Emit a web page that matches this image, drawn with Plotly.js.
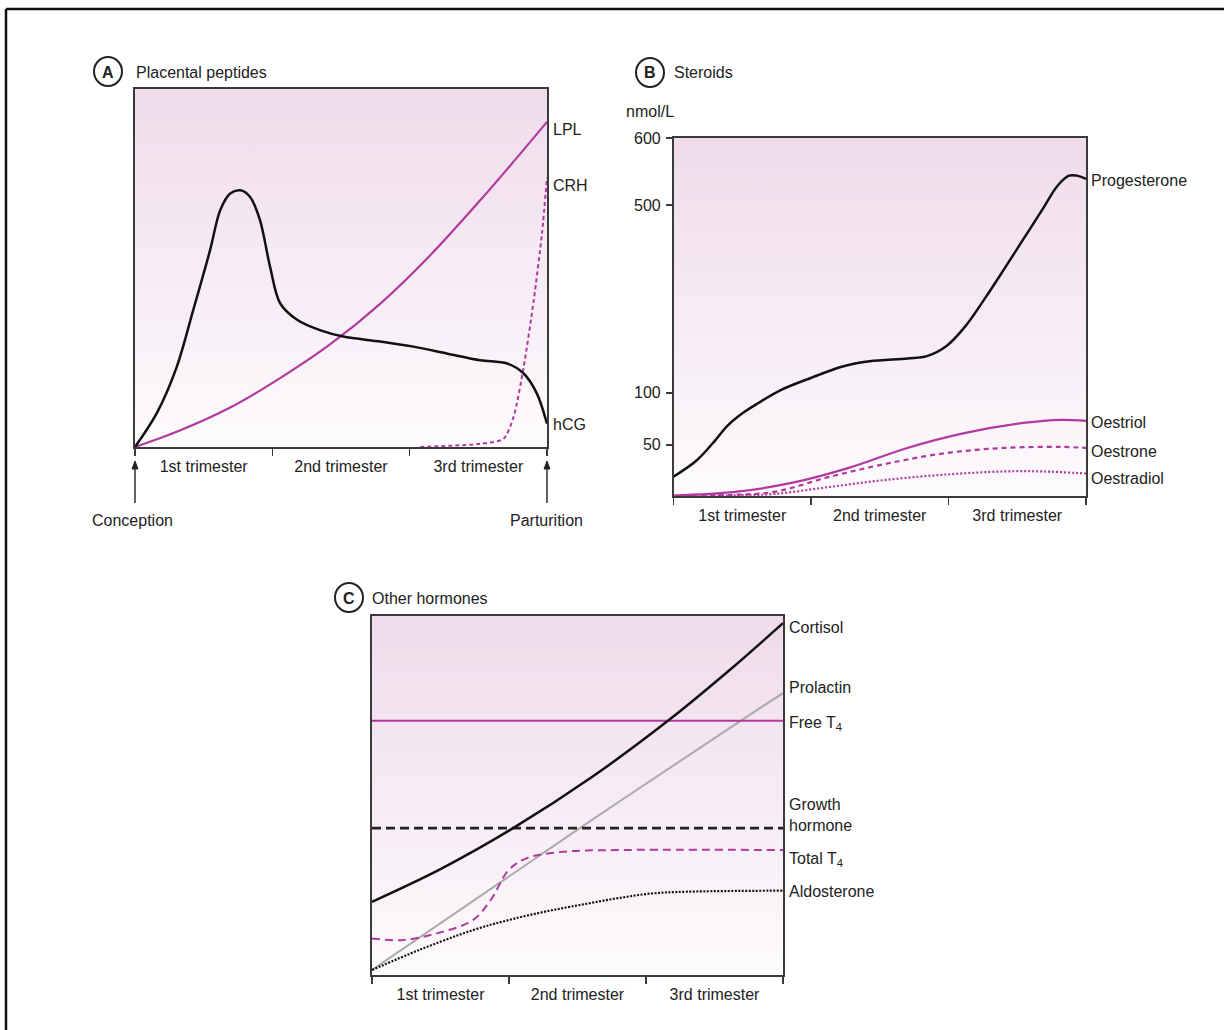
<!DOCTYPE html>
<html>
<head>
<meta charset="utf-8">
<script src="https://cdn.plot.ly/plotly-3.0.1.min.js"></script>
<style>html,body{margin:0;padding:0;background:#fff;}#chart{width:1224px;height:1030px;}</style>
</head>
<body>
<div id="chart"></div>
<script>
// ---------- DATA ----------
const trimesters = ['1st trimester', '2nd trimester', '3rd trimester'];
const trimesterCentres = [1.5, 4.5, 7.5];   // months
const trimesterBounds = [0, 3, 6, 9];       // months

// Panel A: placental peptides (relative units 0-100, x in months)
const hcgX = [0,0.47,0.91,1.27,1.64,1.86,2.08,2.30,2.51,2.73,2.95,3.17,3.54,4.04,4.55,5.36,6.08,6.81,7.54,8.13,8.49,8.78,9.0];
const hcgY = [0,9.3,22.3,38.1,54.9,66.0,70.7,71.6,69.8,63.3,50.3,40.1,35.5,32.6,30.8,29.4,28.0,26.1,24.2,23.3,20.5,14.9,6.5];
const lplX = [0,0.98,2.08,3.17,4.26,5.36,6.45,7.54,8.27,9.0];
const lplY = [0,4.6,11.0,19.2,28.6,40.0,53.5,68.8,79.6,90.7];
const crhX = [6.23,7.54,8.05,8.27,8.49,8.71,8.89,9.0];
const crhY = [0,0.9,2.3,8.4,22.3,40.9,59.5,75.3];

// Panel B: steroids (nmol/L, broken axis)
const bTickVals = [50, 100, 500, 600];
const bTickText = ['50', '100', '500', '600'];
const progX = [0,0.51,0.92,1.17,1.51,1.85,2.35,3.01,3.69,4.28,5.11,5.53,5.95,6.37,6.78,7.21,7.63,8.05,8.38,8.63,8.80,9.0];
const progY = [19,35,54.8,68,80.5,90.1,106,132,156,167,173,178,199,242,299,363,427,491,529,544,544,539];
const oestriolX = [0,1.34,2.6,3.86,5.1,6.37,7.63,8.45,9];
const oestriolY = [0.5,4,13,28,47,61.5,71,74,73];
const oestroneX = [0,1.2,2.19,3.43,4.69,5.95,7.21,8.45,9];
const oestroneY = [0,1,4,19,32,42,47,48,47];
const oestradiolX = [0,1.2,2.19,3.43,4.69,5.95,7.21,8.05,9];
const oestradiolY = [0,0.5,2,9,16,21,24,24,22];

// Panel C: other hormones (relative units 0-100)
const cortisolX = [0,1.5,3.09,4.8,6.48,7.8,9];
const cortisolY = [20.4,29.5,40.9,55,70.8,84.6,98.0];
const prolactinX = [0,4.55,8.07,9];
const prolactinY = [1.4,40.9,70.8,78.5];
const freeT4X = [0,9];
const freeT4Y = [70.8,70.8];
const ghX = [0,9];
const ghY = [40.9,40.9];
const totalT4X = [0,0.64,1.42,2.21,2.6,2.99,3.38,4.16,5.34,9];
const totalT4Y = [10.2,9.7,11.6,15.3,20.9,29.2,32.5,34.3,34.8,34.8];
const aldoX = [0,1.04,2.21,2.99,3.77,4.55,5.34,6.12,6.9,9];
const aldoY = [1.4,7.0,12.5,15.3,17.6,19.5,21.3,22.7,23.2,23.5];

// ---------- HELPERS ----------
const W = 1224, H = 1030;
const px = x => x / W;
const py = y => 1 - y / H;
const FONT = 'Liberation Sans, Arial, sans-serif';
const FS = 16;
const TXT = '#222222';
const MAG = '#b03a9e';
const AXC = '#3a3a3a';

// broken-axis mapping for panel B (value -> display units)
const bBreakVals = [0, 50, 100, 500, 600];
const bBreakPos  = [0, 51, 103, 290, 357];
function fB(v) {
  for (let i = 1; i < bBreakVals.length; i++) {
    if (v <= bBreakVals[i]) {
      const t = (v - bBreakVals[i-1]) / (bBreakVals[i] - bBreakVals[i-1]);
      return bBreakPos[i-1] + t * (bBreakPos[i] - bBreakPos[i-1]);
    }
  }
  return bBreakPos[bBreakPos.length-1];
}

function bg(xa, ya, ymax) {
  return {x:[0,9,9,0,0], y:[0,0,ymax,ymax,0], xaxis:xa, yaxis:ya, mode:'lines', fill:'toself',
    line:{width:0, color:'rgba(0,0,0,0)'}, hoverinfo:'skip', showlegend:false,
    fillgradient:{type:'vertical', colorscale:[[0,'#fdfbfd'],[1,'#efdbea']]}};
}
function ln(x, y, xa, ya, color, width, dash, smooth) {
  return {x, y, xaxis:xa, yaxis:ya, mode:'lines', hoverinfo:'skip', showlegend:false,
    line:{color, width, dash: dash || 'solid', shape:'spline', smoothing: smooth === undefined ? 1 : smooth}};
}

const traces = [
  bg('x','y',100), bg('x2','y2',fB(600)), bg('x3','y3',100),
  // A
  ln(lplX, lplY, 'x','y', MAG, 2.2),
  ln(crhX, crhY, 'x','y', MAG, 2, '4px,3px', 0.7),
  ln(hcgX, hcgY, 'x','y', '#111', 2.5, 'solid', 0.9),
  // B
  ln(progX, progY.map(fB), 'x2','y2', '#111', 2.5),
  ln(oestriolX, oestriolY.map(fB), 'x2','y2', MAG, 2.2),
  ln(oestroneX, oestroneY.map(fB), 'x2','y2', MAG, 2.2, '5px,4px'),
  ln(oestradiolX, oestradiolY.map(fB), 'x2','y2', MAG, 2.2, '2px,2px'),
  // C
  ln(prolactinX, prolactinY, 'x3','y3', '#aaaaaa', 2),
  ln(freeT4X, freeT4Y, 'x3','y3', MAG, 2),
  ln(ghX, ghY, 'x3','y3', '#222', 2.8, '9px,5px'),
  ln(totalT4X, totalT4Y, 'x3','y3', MAG, 2, '8px,5px'),
  ln(aldoX, aldoY, 'x3','y3', '#111', 2.2, '2px,1.5px'),
  ln(cortisolX, cortisolY, 'x3','y3', '#111', 2.5),
];

function xAxis(d0, d1, anchor) {
  return {domain:[px(d0), px(d1)], anchor, range:[0,9], fixedrange:true,
    showgrid:false, zeroline:false, showline:true, mirror:true, linecolor:AXC, linewidth:1.6,
    tickmode:'array', tickvals:trimesterCentres, ticktext:trimesters, ticks:'', ticklabelstandoff:4,
    tickfont:{family:FONT, size:FS, color:TXT},
    minor:{tickmode:'array', tickvals:trimesterBounds, ticks:'outside', ticklen:7, tickwidth:1.6, tickcolor:AXC, showgrid:false}};
}
function yAxis(top, bottom, anchor, range) {
  return {domain:[py(bottom), py(top)], anchor, range, fixedrange:true,
    showgrid:false, zeroline:false, showline:true, mirror:true, linecolor:AXC, linewidth:1.6,
    showticklabels:false, ticks:''};
}

function arrowShapes(x, tipY, tailY) {
  return [
    {type:'line', xref:'paper', yref:'paper', x0:px(x), x1:px(x), y0:py(tailY), y1:py(tipY + 6), line:{color:'#222', width:1.4}},
    {type:'path', xref:'paper', yref:'paper', fillcolor:'#222', line:{color:'#222', width:1},
      path:`M ${px(x-3)} ${py(tipY+8)} L ${px(x)} ${py(tipY)} L ${px(x+3)} ${py(tipY+8)} Z`}
  ];
}

const layout = {
  width: W, height: H, margin:{l:0,r:0,t:0,b:0}, paper_bgcolor:'#ffffff', plot_bgcolor:'rgba(0,0,0,0)',
  showlegend:false, font:{family:FONT, size:FS, color:TXT},
  xaxis: xAxis(135, 547, 'y'),
  yaxis: yAxis(88.5, 447, 'x', [0,100]),
  xaxis2: xAxis(673.5, 1086, 'y2'),
  yaxis2: Object.assign(yAxis(138, 496, 'x2', [0, fB(600)]), {
    tickmode:'array', tickvals:bTickVals.map(fB), ticktext:bTickText, ticks:'outside', ticklen:6,
    tickwidth:1.6, tickcolor:AXC, showticklabels:true, ticklabelstandoff:2,
    tickfont:{family:FONT, size:FS, color:TXT}}),
  xaxis3: xAxis(372, 783, 'y3'),
  yaxis3: yAxis(616, 975, 'x3', [0,100]),
  shapes: [
    // outer frame (top and left edges)
    {type:'line', xref:'paper', yref:'paper', x0:px(6), x1:1, y0:py(9), y1:py(9), line:{color:'#111', width:2.5}},
    {type:'line', xref:'paper', yref:'paper', x0:px(6), x1:px(6), y0:py(9), y1:0, line:{color:'#111', width:2.5}},
    // circled letters
    {type:'circle', xref:'paper', yref:'paper', x0:px(94), x1:px(122), y0:py(86), y1:py(57), line:{color:'#222', width:2}},
    {type:'circle', xref:'paper', yref:'paper', x0:px(636), x1:px(664), y0:py(87), y1:py(58), line:{color:'#222', width:2}},
    {type:'circle', xref:'paper', yref:'paper', x0:px(335), x1:px(363), y0:py(612), y1:py(583), line:{color:'#222', width:2}},
    ...arrowShapes(135, 461, 503),
    ...arrowShapes(547, 461, 503),
  ],
  annotations: []
};

function label(text, x, y, anchor, opts) {
  layout.annotations.push(Object.assign({text, xref:'paper', yref:'paper', x:px(x), y:py(y),
    xanchor:anchor || 'left', yanchor:'middle', align:'left', showarrow:false,
    font:{family:FONT, size:FS, color:TXT}}, opts || {}));
}
// panel headings
const LET = {family:FONT, size:16, color:TXT};
label('<b>A</b>', 108, 72, 'center', {font:LET});
label('Placental peptides', 134, 72);
label('<b>B</b>', 650, 73, 'center', {font:LET});
label('Steroids', 672, 73);
label('<b>C</b>', 349, 598, 'center', {font:LET});
label('Other hormones', 370, 598);
// panel A series labels
label('LPL', 551, 130);
label('CRH', 551, 186);
label('hCG', 551, 424);
label('Conception', 132, 520, 'center');
label('Parturition', 546, 520, 'center');
// panel B
label('nmol/L', 650, 111, 'center');
label('Progesterone', 1089, 180);
label('Oestriol', 1089, 422);
label('Oestrone', 1089, 451);
label('Oestradiol', 1089, 479);
// panel C
label('Cortisol', 787, 627);
label('Prolactin', 787, 687);
label('Free T<sub>4</sub>', 787, 723);
label('Growth<br>hormone', 787, 815);
label('Total T<sub>4</sub>', 787, 859);
label('Aldosterone', 787, 891);

Plotly.newPlot('chart', traces, layout, {staticPlot:true, displayModeBar:false});
</script>
</body>
</html>
